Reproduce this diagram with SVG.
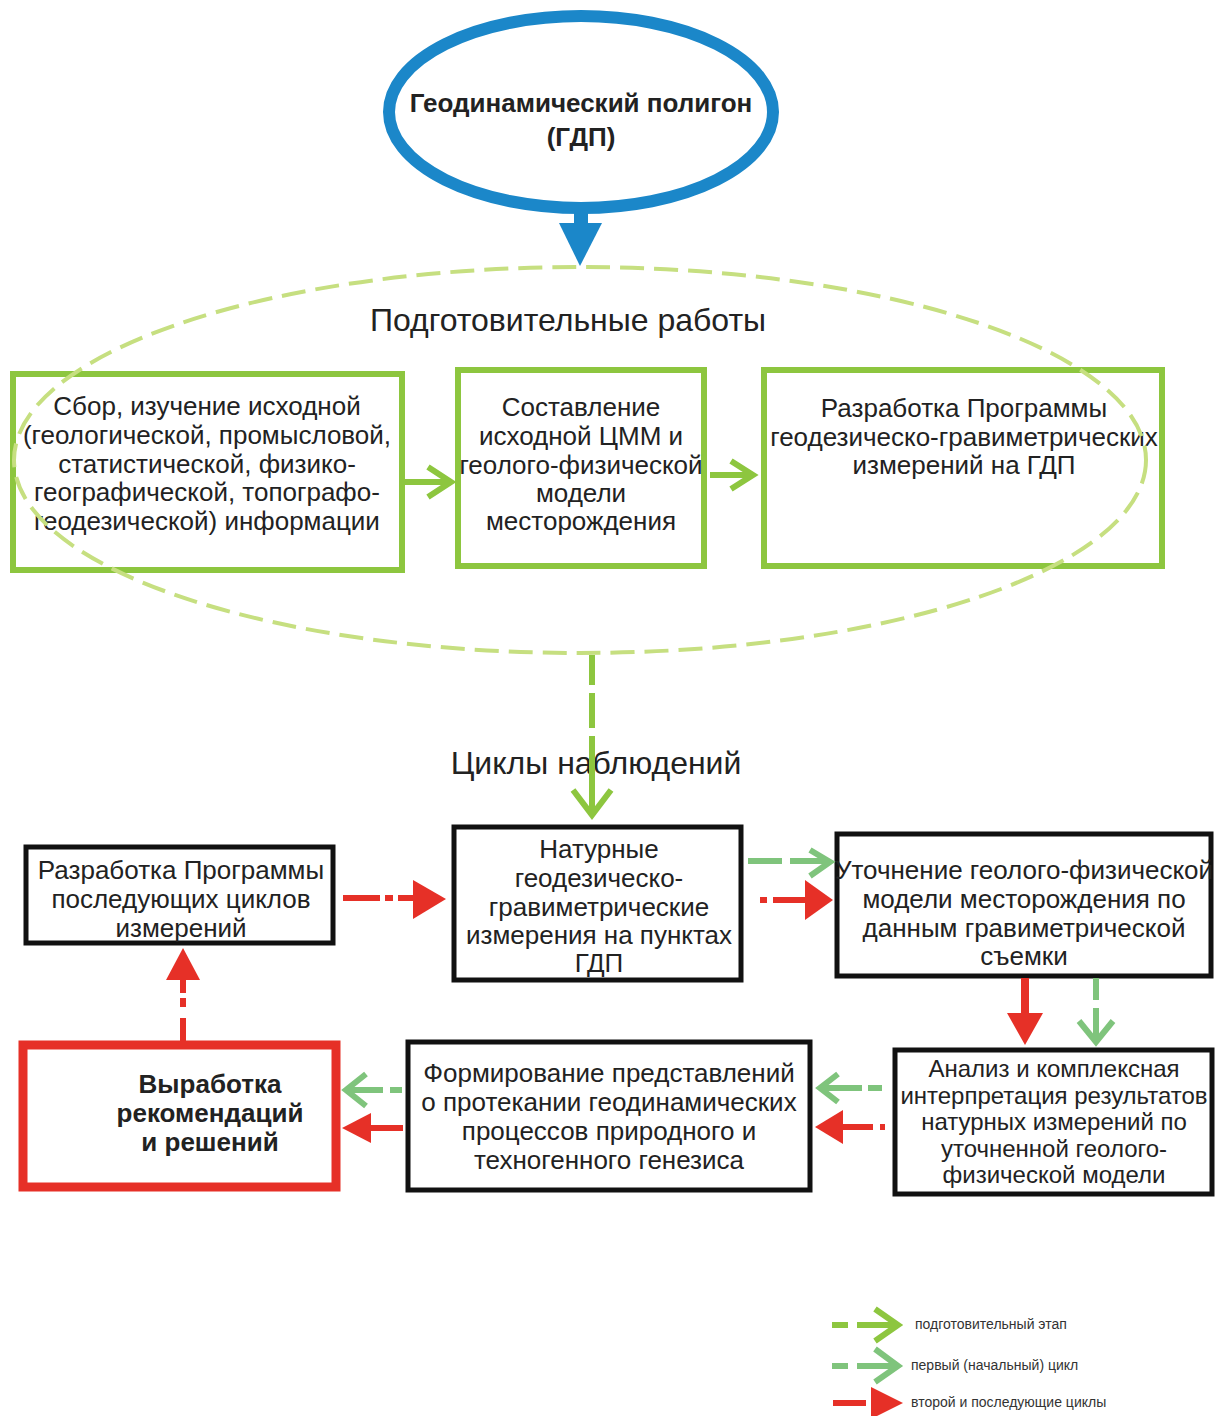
<svg xmlns="http://www.w3.org/2000/svg" width="1220" height="1416" viewBox="0 0 1220 1416">
<style>
text{font-family:"Liberation Sans",Arial,sans-serif;fill:#222;}
.t{font-size:26px;text-anchor:middle;}
.ts{font-size:24px;text-anchor:middle;}
.tb{font-size:26px;font-weight:bold;text-anchor:middle;}
.h{font-size:32px;text-anchor:middle;}
.lg{font-size:14px;fill:#333;}
.gbox{fill:#fff;stroke:#8dc63f;stroke-width:6;}
.bbox{fill:#fff;stroke:#111;stroke-width:5;}
.rbox{fill:#fff;stroke:#e63027;stroke-width:9;}
.yg{fill:none;stroke:#8dc63f;stroke-width:6;}
.gr{fill:none;stroke:#7fc47c;stroke-width:6;}
.rd{fill:none;stroke:#e63027;stroke-width:6;}
.rdf{fill:#e63027;stroke:none;}
</style>
<rect width="1220" height="1416" fill="#fff"/>

<g id="node-gdp">
<ellipse cx="581" cy="112" rx="192" ry="96" fill="#fff" stroke="#1b87c9" stroke-width="12"/>
<text class="tb" x="581" y="112" font-size="28">Геодинамический полигон</text>
<text class="tb" x="581" y="146" font-size="28">(ГДП)</text>
</g>

<g id="node-sbor">
<rect class="gbox" x="13" y="374" width="389" height="196"/>
<text class="t" x="207" y="415">Сбор, изучение исходной</text>
<text class="t" x="207" y="444">(геологической, промысловой,</text>
<text class="t" x="207" y="473">статистической, физико-</text>
<text class="t" x="207" y="501">географической, топографо-</text>
<text class="t" x="207" y="530">геодезической) информации</text>
</g>

<g id="node-cmm">
<rect class="gbox" x="458" y="370" width="246" height="196"/>
<text class="t" x="581" y="416">Составление</text>
<text class="t" x="581" y="445">исходной ЦММ и</text>
<text class="t" x="581" y="474">геолого-физической</text>
<text class="t" x="581" y="502">модели</text>
<text class="t" x="581" y="530">месторождения</text>
</g>

<g id="node-prog">
<rect class="gbox" x="764" y="370" width="398" height="196"/>
<text class="t" x="964" y="417">Разработка Программы</text>
<text class="t" x="964" y="446">геодезическо-гравиметрических</text>
<text class="t" x="964" y="474">измерений на ГДП</text>
</g>

<g id="node-prep">
<ellipse cx="580" cy="460" rx="566" ry="193" fill="none" stroke="#c6df80" stroke-width="4" stroke-dasharray="24 10"/>
<text class="h" x="568" y="331">Подготовительные работы</text>
</g>

<g id="label-cycles">
<text class="h" x="596" y="774">Циклы наблюдений</text>
</g>

<g id="node-prog2">
<rect class="bbox" x="26" y="847" width="307" height="96"/>
<text class="t" x="181" y="879">Разработка Программы</text>
<text class="t" x="181" y="908">последующих циклов</text>
<text class="t" x="181" y="937">измерений</text>
</g>

<g id="node-nat">
<rect class="bbox" x="454" y="827" width="287" height="153"/>
<text class="t" x="599" y="858">Натурные</text>
<text class="t" x="599" y="887">геодезическо-</text>
<text class="t" x="599" y="916">гравиметрические</text>
<text class="t" x="599" y="944">измерения на пунктах</text>
<text class="t" x="599" y="972">ГДП</text>
</g>

<g id="node-utoch">
<rect class="bbox" x="837" y="834" width="374" height="142"/>
<text class="t" x="1024" y="879">Уточнение геолого-физической</text>
<text class="t" x="1024" y="908">модели месторождения по</text>
<text class="t" x="1024" y="937">данным гравиметрической</text>
<text class="t" x="1024" y="965">съемки</text>
</g>

<g id="node-analiz">
<rect class="bbox" x="895" y="1050" width="317" height="144"/>
<text class="ts" x="1054" y="1077">Анализ и комплексная</text>
<text class="ts" x="1054" y="1104">интерпретация результатов</text>
<text class="ts" x="1054" y="1130">натурных измерений по</text>
<text class="ts" x="1054" y="1157">уточненной геолого-</text>
<text class="ts" x="1054" y="1183">физической модели</text>
</g>

<g id="node-form">
<rect class="bbox" x="408" y="1042" width="402" height="148"/>
<text class="t" x="609" y="1082">Формирование представлений</text>
<text class="t" x="609" y="1111">о протекании геодинамических</text>
<text class="t" x="609" y="1140">процессов природного и</text>
<text class="t" x="609" y="1169">техногенного генезиса</text>
</g>

<g id="node-vyr">
<rect class="rbox" x="23" y="1045" width="313" height="142"/>
<text class="tb" x="210" y="1093">Выработка</text>
<text class="tb" x="210" y="1122">рекомендаций</text>
<text class="tb" x="210" y="1151">и решений</text>
</g>

<g id="connectors">
<rect x="574" y="206" width="14" height="20" fill="#1b87c9"/>
<polygon points="559,223 602,223 580,266" fill="#1b87c9"/>
<path class="yg" d="M405,482 H450 M428,467 L451,482 L428,497"/>
<path class="yg" d="M710,475 H752 M731,461 L753,475 L731,489"/>
<path class="yg" d="M592,655 V812" stroke-dasharray="30 8 35 8 100"/>
<path class="yg" d="M573,790 L592,815 L611,790"/>
<path class="rd" d="M343,898 H380 M385,898 H393 M398,898 H413"/>
<polygon class="rdf" points="413,880 446,899 413,919"/>
<path class="gr" d="M748,861 H782 M790,861 H827 M810,850 L830,862 L810,876"/>
<path class="rd" d="M760,900 H767 M773,900 H806"/>
<polygon class="rdf" points="805,880 833,900 805,920"/>
<rect x="1021" y="978" width="8" height="36" class="rdf"/>
<polygon class="rdf" points="1007,1013 1043,1013 1025,1045"/>
<path class="gr" d="M1096,978 V1000 M1096,1008 V1040 M1079,1021 L1096,1042 L1113,1021"/>
<path class="gr" d="M882,1088 H868 M862,1088 H822 M838,1074 L820,1088 L838,1102"/>
<path class="rd" d="M885,1127 H880 M873,1127 H838"/>
<polygon class="rdf" points="843,1110 815,1127 843,1144"/>
<path class="gr" d="M402,1090 H390 M383,1090 H347 M366,1074 L346,1090 L366,1106"/>
<path class="rd" d="M403,1128 H367"/>
<polygon class="rdf" points="371,1113 342,1128 371,1143"/>
<path class="rd" d="M183,1042 V1018 M183,1007 V998 M183,993 V979"/>
<polygon class="rdf" points="166,980 200,980 183,948"/>
</g>

<g id="legend">
<path class="yg" d="M832,1325 H848 M857,1325 H893 M875,1309 L898,1325 L875,1341"/>
<text class="lg" x="915" y="1329">подготовительный этап</text>
<path class="gr" d="M832,1366 H848 M857,1366 H893 M875,1349 L898,1366 L875,1382"/>
<text class="lg" x="911" y="1370">первый (начальный) цикл</text>
<path class="rd" d="M833,1403 H866" stroke-width="7"/>
<polygon class="rdf" points="871,1387 903,1403 871,1419"/>
<text class="lg" x="911" y="1407">второй и последующие циклы</text>
</g>
</svg>
